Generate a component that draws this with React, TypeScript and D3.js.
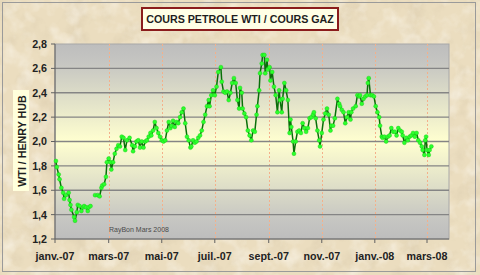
import React from "react";
import * as d3 from "d3";

// ---------- DATA ----------
const dates: string[] = [
  // Jan 2007
  "2007-01-02","2007-01-03","2007-01-05","2007-01-06","2007-01-08","2007-01-10","2007-01-11","2007-01-13","2007-01-16","2007-01-17","2007-01-18","2007-01-19","2007-01-22","2007-01-23","2007-01-25","2007-01-26","2007-01-28","2007-01-30",
  // Feb 2007
  "2007-02-01","2007-02-02","2007-02-04","2007-02-06","2007-02-07","2007-02-09","2007-02-11","2007-02-14","2007-02-17","2007-02-19","2007-02-21","2007-02-22","2007-02-24","2007-02-26","2007-02-27",
  // Mar 2007
  "2007-03-01","2007-03-03","2007-03-04","2007-03-06","2007-03-08","2007-03-10","2007-03-12","2007-03-14","2007-03-16","2007-03-18","2007-03-20","2007-03-22","2007-03-25","2007-03-28","2007-03-29","2007-03-31",
  // Apr 2007
  "2007-04-02","2007-04-04","2007-04-06","2007-04-08","2007-04-10","2007-04-12","2007-04-14","2007-04-16","2007-04-18","2007-04-19","2007-04-21","2007-04-23","2007-04-25","2007-04-27","2007-04-29",
  // May 2007
  "2007-05-01","2007-05-03","2007-05-05","2007-05-07","2007-05-09","2007-05-11","2007-05-12","2007-05-14","2007-05-16","2007-05-18","2007-05-20","2007-05-22","2007-05-24","2007-05-26","2007-05-28","2007-05-30",
  // Jun 2007
  "2007-06-01","2007-06-03","2007-06-04","2007-06-06","2007-06-08","2007-06-10","2007-06-12","2007-06-14","2007-06-16","2007-06-18","2007-06-20","2007-06-22","2007-06-24","2007-06-25","2007-06-27","2007-06-29",
  // Jul 2007
  "2007-07-01","2007-07-03","2007-07-05","2007-07-08","2007-07-09","2007-07-11","2007-07-13","2007-07-15","2007-07-17","2007-07-19","2007-07-21","2007-07-23","2007-07-25","2007-07-27","2007-07-29","2007-07-30",
  // Aug 2007
  "2007-08-01","2007-08-02","2007-08-04","2007-08-06","2007-08-08","2007-08-10","2007-08-12","2007-08-14","2007-08-16","2007-08-18","2007-08-19","2007-08-21","2007-08-22","2007-08-24","2007-08-25","2007-08-27","2007-08-28","2007-08-30","2007-08-31",
  // Sep 2007
  "2007-09-02","2007-09-03","2007-09-05","2007-09-07","2007-09-09","2007-09-11","2007-09-13","2007-09-14","2007-09-16","2007-09-17","2007-09-19","2007-09-21","2007-09-23","2007-09-25","2007-09-26","2007-09-27","2007-09-29","2007-09-30",
  // Oct 2007
  "2007-10-02","2007-10-04","2007-10-06","2007-10-08","2007-10-10","2007-10-12","2007-10-14","2007-10-16","2007-10-18","2007-10-20","2007-10-22","2007-10-23","2007-10-25","2007-10-27","2007-10-29","2007-10-30",
  // Nov 2007
  "2007-11-01","2007-11-03","2007-11-05","2007-11-07","2007-11-09","2007-11-11","2007-11-12","2007-11-14","2007-11-16","2007-11-19","2007-11-21","2007-11-22","2007-11-24","2007-11-26","2007-11-28","2007-11-30",
  // Dec 2007
  "2007-12-02","2007-12-04","2007-12-05","2007-12-07","2007-12-10","2007-12-12","2007-12-14","2007-12-15","2007-12-17","2007-12-19","2007-12-21","2007-12-23","2007-12-24","2007-12-25","2007-12-27","2007-12-29","2007-12-31",
  // Jan 2008
  "2008-01-02","2008-01-04","2008-01-06","2008-01-07","2008-01-09","2008-01-10","2008-01-12","2008-01-14","2008-01-16","2008-01-18","2008-01-20","2008-01-22","2008-01-24","2008-01-26","2008-01-28","2008-01-30",
  // Feb 2008
  "2008-02-01","2008-02-02","2008-02-04","2008-02-06","2008-02-08","2008-02-10","2008-02-12","2008-02-14","2008-02-16","2008-02-18","2008-02-20","2008-02-22","2008-02-24","2008-02-25","2008-02-27","2008-02-28","2008-02-29",
  // Mar 2008
  "2008-03-01","2008-03-03","2008-03-04","2008-03-06",
];

const ratio: (number | null)[] = [
  // Jan 2007
  1.84,1.79,1.73,1.69,1.62,1.58,1.53,1.56,1.58,1.52,1.48,1.44,1.38,1.35,1.42,1.48,1.47,1.43,
  // Feb 2007
  1.46,1.47,1.46,1.43,1.46,1.47,null,1.56,1.56,1.55,1.62,1.64,1.65,1.71,1.83,
  // Mar 2007
  1.86,1.83,1.77,1.83,1.90,1.94,1.97,1.96,2.04,2.03,1.93,2.01,2.03,1.97,1.92,1.96,
  // Apr 2007
  2.00,2.01,1.95,2.00,1.95,2.00,2.01,2.04,2.07,2.05,2.09,2.16,2.11,2.07,2.04,
  // May 2007
  2.01,2.00,2.01,2.09,2.16,2.11,2.13,2.17,2.12,2.16,2.15,2.20,2.24,2.27,2.15,2.04,
  // Jun 2007
  2.01,1.95,1.96,2.01,1.99,2.00,2.03,2.05,2.09,2.16,2.22,2.29,2.34,2.29,2.38,2.42,
  // Jul 2007
  2.38,2.45,2.57,2.61,2.49,2.41,2.40,2.41,2.34,2.40,2.48,2.52,2.48,2.34,2.27,2.44,
  // Aug 2007
  2.40,2.27,2.23,2.20,2.09,2.05,2.01,2.09,2.08,2.22,2.29,2.42,2.56,2.64,2.71,2.71,2.56,2.67,2.59,
  // Sep 2007
  2.61,2.50,2.57,2.45,2.38,2.24,2.42,2.34,2.24,2.35,2.48,2.42,2.34,2.07,2.18,2.12,2.00,1.90,
  // Oct 2007
  2.00,2.08,2.09,2.07,2.15,2.11,2.08,2.11,2.19,2.20,2.22,2.24,2.19,2.09,2.01,1.96,
  // Nov 2007
  2.07,2.18,2.23,2.27,2.22,2.09,2.13,2.13,2.19,2.35,2.31,2.29,2.26,2.24,2.15,2.20,
  // Dec 2007
  2.24,2.18,2.24,2.27,2.29,2.38,2.37,2.38,2.31,2.35,2.37,2.38,2.48,2.52,2.38,2.38,2.37,
  // Jan 2008
  2.29,2.24,2.20,2.13,2.04,2.03,2.04,2.00,2.04,2.05,2.11,2.08,2.08,2.05,2.11,2.09,
  // Feb 2008
  2.08,2.05,1.99,2.03,2.01,2.04,2.05,2.07,2.04,2.07,2.01,1.99,1.96,1.93,1.89,2.01,2.04,
  // Mar 2008
  1.93,1.89,1.93,1.96,
];

const yTicks: number[] = [1.2, 1.4, 1.6, 1.8, 2.0, 2.2, 2.4, 2.6, 2.8];
const xTickDates: string[] = ["2007-01-01","2007-03-01","2007-05-01","2007-07-01","2007-09-01","2007-11-01","2008-01-01","2008-03-01"];
const xTickLabels: string[] = ["janv.-07","mars-07","mai-07","juil.-07","sept.-07","nov.-07","janv.-08","mars-08"];

const title = "COURS PETROLE WTI / COURS GAZ";
const yTitle = "WTI / HENRY HUB";
const credit = "RayBon Mars 2008";

// ---------- LAYOUT ----------
const W = 480, H = 275;
const L = 55, R = 449, T = 44, B = 239;
const FONT = "'Liberation Sans', Arial, sans-serif";

const parse = d3.timeParse("%Y-%m-%d");

export default function App() {
  const x = d3
    .scaleTime()
    .domain([parse("2007-01-01")!, parse("2007-03-01")!, parse("2008-03-01")!])
    .range([L, 108.7, 427]);
  const y = d3.scaleLinear().domain([1.2, 2.8]).range([B, T]);

  const pts = dates.map((d, i) => ({ date: parse(d)!, v: ratio[i] }));
  const line = d3
    .line<{ date: Date; v: number | null }>()
    .defined((p) => p.v != null)
    .x((p) => x(p.date))
    .y((p) => y(p.v as number));

  const fmt = (v: number) => v.toFixed(1).replace(".", ",");

  return (
    <svg
      width={W}
      height={H}
      style={{ position: "absolute", left: 0, top: 0 }}
      fontFamily={FONT}
    >
      <defs>
        <filter id="paperDark" x="0" y="0" width="100%" height="100%">
          <feTurbulence type="fractalNoise" baseFrequency="0.045" numOctaves="4" seed="4" />
          <feColorMatrix
            type="matrix"
            values="0 0 0 0 0.62  0 0 0 0 0.52  0 0 0 0 0.36  1.8 0 0 0 -0.85"
          />
        </filter>
        <filter id="paperLight" x="0" y="0" width="100%" height="100%">
          <feTurbulence type="fractalNoise" baseFrequency="0.06" numOctaves="3" seed="11" />
          <feColorMatrix
            type="matrix"
            values="0 0 0 0 1  0 0 0 0 0.98  0 0 0 0 0.93  0 1.8 0 0 -0.8"
          />
        </filter>
        <linearGradient id="plotGrad" x1="0" y1="0" x2="0" y2="1">
          <stop offset="0" stopColor="#BDBDBD" />
          <stop offset="0.1" stopColor="#C6C6C2" />
          <stop offset="0.5" stopColor="#FFFFD0" />
          <stop offset="0.9" stopColor="#C6C6C2" />
          <stop offset="1" stopColor="#BDBDBD" />
        </linearGradient>
      </defs>

      {/* paper background */}
      <rect x={0} y={0} width={W} height={H} fill="#EBDDBF" />
      <rect x={0} y={0} width={W} height={H} filter="url(#paperDark)" opacity={0.45} />
      <rect x={0} y={0} width={W} height={H} filter="url(#paperLight)" opacity={0.6} />
      <rect x={2.5} y={2.5} width={473} height={269} fill="none" stroke="#9A9A9A" strokeWidth={1} />

      {/* title */}
      <rect x={142} y={8} width={196} height={22} fill="#FFFFE6" stroke="#8B1C1C" strokeWidth={2} />
      <text x={240} y={22.7} textAnchor="middle" fontSize={10.7} fontWeight="bold" fill="#1E1E1E">
        {title}
      </text>

      {/* plot area */}
      <rect x={L} y={T} width={R - L} height={B - T} fill="url(#plotGrad)" stroke="#A8A8A8" strokeWidth={1} />

      {/* vertical dotted month lines */}
      {xTickDates.slice(1).map((d) => {
        const xx = Math.round(x(parse(d)!)) + 0.5;
        return (
          <line key={"v" + d} x1={xx} x2={xx} y1={T} y2={B} stroke="#F4B08A" strokeWidth={1} strokeDasharray="2,2" />
        );
      })}

      {/* horizontal gridlines */}
      {yTicks.slice(1, -1).map((v) => (
        <line key={"g" + v} x1={L} x2={R} y1={y(v)} y2={y(v)} stroke="#858585" strokeWidth={1.3} />
      ))}

      {/* axes */}
      <line x1={L} x2={L} y1={T} y2={B} stroke="#606060" strokeWidth={1} />
      <line x1={L} x2={R} y1={B} y2={B} stroke="#606060" strokeWidth={1} />
      {yTicks.map((v) => (
        <g key={"yt" + v}>
          <line x1={L - 4} x2={L} y1={y(v)} y2={y(v)} stroke="#606060" />
          <text x={47} y={y(v) + 3.9} textAnchor="end" fontSize={10.7} fontWeight="bold" fill="#222">
            {fmt(v)}
          </text>
        </g>
      ))}
      {xTickDates.map((d, i) => {
        const xx = x(parse(d)!);
        return (
          <g key={"xt" + d}>
            <line x1={xx} x2={xx} y1={B} y2={B + 4} stroke="#606060" />
            <text x={xx} y={260} textAnchor="middle" fontSize={10.7} fontWeight="bold" fill="#222">
              {xTickLabels[i]}
            </text>
          </g>
        );
      })}

      {/* y title */}
      <rect x={13} y={90} width={16} height={101} fill="#FFFFDC" />
      <text
        transform="translate(26,141) rotate(-90)"
        textAnchor="middle"
        fontSize={10.7}
        fontWeight="bold"
        fill="#1E1E1E"
      >
        {yTitle}
      </text>

      {/* credit */}
      <text x={109} y={232} fontSize={7} fill="#4A4A4A" fontFamily="'Liberation Sans Narrow', 'Liberation Sans', Arial, sans-serif">
        {credit}
      </text>

      {/* series */}
      <path d={line(pts) || ""} fill="none" stroke="#0A6E0A" strokeWidth={1.5} strokeLinejoin="round" />
      {pts
        .filter((p) => p.v != null)
        .map((p, i) => (
          <circle key={"m" + i} cx={x(p.date)} cy={y(p.v as number)} r={2} fill="#2CFF2C" stroke="#12C812" strokeWidth={0.4} />
        ))}
    </svg>
  );
}
